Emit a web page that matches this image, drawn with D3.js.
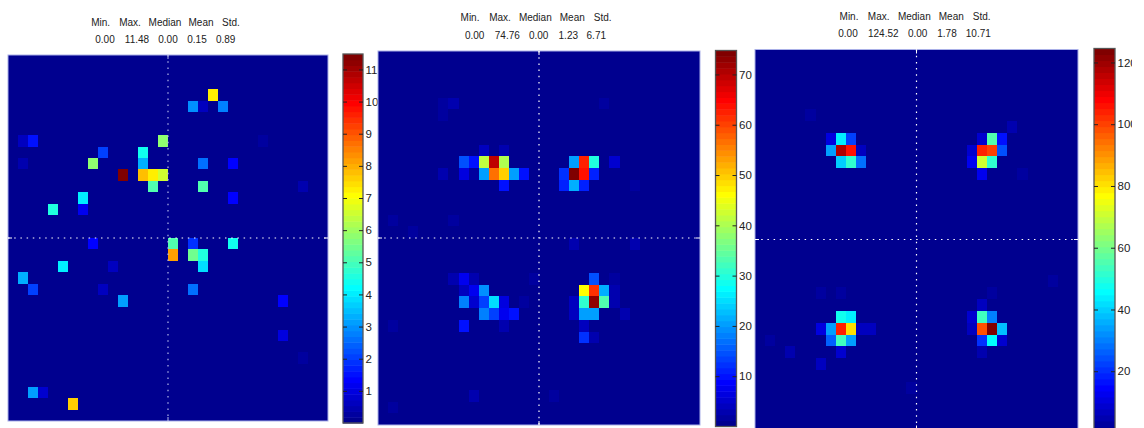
<html>
<meta charset="utf-8">
<head>
	<title>Heat maps</title>
	<script src="https://d3js.org/d3.v7.min.js"></script>
	<style>
		body { margin: 0; background: white; }
		text { font-family: "Liberation Sans", sans-serif; fill: #222; }
		.stats text { font-size: 10px; text-anchor: middle; }
		.ticks text { font-size: 11.5px; }
	</style>
</head>
<body>
<svg id="chart" width="1144" height="428"></svg>

<script>
	var statNames = ["Min.", "Max.", "Median", "Mean", "Std."];

	var stats1 = ["0.00", "11.48", "0.00", "0.15", "0.89"];
	var stats2 = ["0.00", "74.76", "0.00", "1.23", "6.71"];
	var stats3 = ["0.00", "124.52", "0.00", "1.78", "10.71"];

	var max1 = 11.48;
	var max2 = 74.76;
	var max3 = 124.52;

	var ticks1 = [1, 2, 3, 4, 5, 6, 7, 8, 9, 10, 11];
	var ticks2 = [10, 20, 30, 40, 50, 60, 70];
	var ticks3 = [20, 40, 60, 80, 100, 120];

	// [row, column, value], everything else in the 32x32 matrix is zero
	var cells1 = [
		[3,20,7.25],
		[4,18,3.0],[4,19,0.65],[4,21,2.8],
		[7,1,0.65],[7,2,1.6],[7,15,5.8],[7,25,0.25],
		[8,9,2.0],[8,13,4.45],
		[9,1,0.4],[9,8,5.9],[9,13,3.4],[9,19,2.6],[9,22,1.3],
		[10,11,11.48],[10,13,7.85],[10,14,7.2],[10,15,6.6],
		[11,14,5.1],[11,19,5.2],[11,29,0.4],
		[12,7,4.0],[12,22,1.4],
		[13,4,4.5],[13,7,1.1],
		[16,8,1.35],[16,16,5.1],[16,18,1.9],[16,22,4.4],
		[17,16,8.2],[17,18,5.4],[17,19,4.6],
		[18,5,4.0],[18,10,0.55],[18,19,3.9],
		[19,1,3.4],
		[20,2,2.0],[20,9,0.6],[20,18,2.6],
		[21,11,3.2],[21,27,1.4],
		[24,27,0.9],
		[26,29,0.3],
		[29,2,3.2],[29,3,0.8],
		[30,6,7.6]
	];

	var cells2 = [
		[4,6,1.3],[4,7,2.5],[4,22,1.3],
		[5,6,1.3],
		[8,10,4.5],[8,12,3.5],
		[9,8,15],[9,9,10],[9,10,42],[9,11,69],[9,12,40],[9,19,20],[9,20,63],[9,21,30],[9,23,5],
		[10,6,2.5],[10,8,6],[10,9,2],[10,10,20],[10,11,57],[10,12,50],[10,13,21],[10,14,10],
		[10,18,12.7],[10,19,74.76],[10,20,64],[10,21,11],
		[11,12,10],[11,18,11.5],[11,19,22],[11,20,11.5],[11,25,1.5],
		[14,1,1.5],[14,7,1.5],
		[15,3,1.3],
		[16,19,2.5],[16,25,2.5],
		[19,7,3],[19,8,8],[19,9,2.5],[19,15,1.3],[19,21,15],[19,23,1.5],
		[20,8,4],[20,9,8],[20,10,18.7],[20,20,46],[20,21,61],[20,22,21.5],[20,23,2.5],
		[21,8,18.5],[21,9,5],[21,10,14],[21,11,25],[21,12,6],[21,14,1.5],[21,19,4],[21,20,30.5],[21,21,73],[21,22,33],[21,23,2.5],
		[22,10,18.5],[22,11,14],[22,12,8],[22,13,10.5],[22,19,4],[22,20,20],[22,21,20],[22,24,2.5],
		[23,1,1.5],[23,8,9.5],[23,12,3],[23,20,4],
		[24,20,12.7],[24,21,3.5],
		[29,9,3.5],[29,17,2],
		[30,1,1.5]
	];

	var cells3 = [
		[5,5,2.5],
		[6,25,5],
		[7,7,11],[7,8,43],[7,9,21.5],[7,22,9],[7,23,55],[7,24,16],
		[8,7,35],[8,8,118],[8,9,106],[8,10,6],[8,21,8],[8,22,104],[8,23,100],[8,24,23.4],
		[9,8,39],[9,9,51],[9,10,29],[9,21,13],[9,22,71],[9,23,51],
		[10,22,12],[10,26,2.5],
		[19,29,3],
		[20,6,2.5],[20,8,2.5],[20,23,3],
		[21,22,6],
		[22,8,47],[22,9,43],[22,21,8],[22,22,54],[22,23,31],
		[23,6,10],[23,7,35],[23,8,104],[23,9,80],[23,10,7],[23,11,6],[23,21,7],[23,22,98],[23,23,124.52],[23,24,37],
		[24,1,2.5],[24,7,25.4],[24,8,54],[24,9,35],[24,22,20],[24,23,45],[24,24,8],
		[25,3,5],[25,8,9],[25,22,4],
		[26,6,7],
		[28,15,2.5]
	];

	var layout = [
		{ x0: 8, x1: 328, y0: 55, y1: 421, barX: 343, barW: 20, barTop: 54, barBottom: 423, vDot: "#b4b8ea",
			nameX: [100.7, 130, 165, 201, 231], nameY: 26, statX: [105, 137, 168, 197, 225.7], statY: 43 },
		{ x0: 378, x1: 700, y0: 51, y1: 425, barX: 715.5, barW: 21, barTop: 50.5, barBottom: 426.5, vDot: "white",
			nameX: [470, 500, 535.3, 572.3, 602.7], nameY: 21, statX: [474.7, 507.3, 538.7, 568.3, 596.3], statY: 39 },
		{ x0: 755, x1: 1078, y0: 49.5, y1: 429.5, barX: 1094, barW: 21, barTop: 48.5, barBottom: 433, vDot: "white",
			nameX: [849, 878.7, 914.3, 951.3, 981.7], nameY: 19.5, statX: [848, 883.3, 917.7, 947, 978.3], statY: 37 }
	];

	// matlab jet colormap, 64 steps
	function jet(i) {
		var f = (i + 1) / 64;
		function ch(c) { return Math.round(255 * Math.max(0, Math.min(1, 1.5 - Math.abs(4 * f - c)))); }
		return d3.rgb(ch(3), ch(2), ch(1)).formatHex();
	}
	var jetColors = d3.range(64).map(jet);

	var svg = d3.select("#chart");

	function drawPanel(g, lay, cells, max, ticks, stats) {
		var color = d3.scaleQuantize().domain([0, max]).range(jetColors);
		var index = d3.range(32);
		var x = d3.scaleBand().domain(index).range([lay.x0, lay.x1]);
		var y = d3.scaleBand().domain(index).range([lay.y0, lay.y1]);

		var lookup = {};
		cells.forEach(function (c) { lookup[c[0] + "," + c[1]] = c[2]; });
		var matrix = d3.cross(index, index).map(function (p) {
			return { row: p[0], col: p[1], value: lookup[p[0] + "," + p[1]] || 0 };
		});

		g.append("g").selectAll("rect").data(matrix).enter().append("rect")
			.attr("x", function (d) { return x(d.col); })
			.attr("y", function (d) { return y(d.row); })
			.attr("width", x.bandwidth())
			.attr("height", y.bandwidth())
			.attr("fill", function (d) { return color(d.value); })
			.attr("shape-rendering", "crispEdges");

		// frame
		g.append("rect")
			.attr("x", lay.x0).attr("y", lay.y0)
			.attr("width", lay.x1 - lay.x0).attr("height", lay.y1 - lay.y0)
			.attr("fill", "none").attr("stroke", "#aab0e8").attr("stroke-width", 1);

		// dotted quadrant lines
		var midX = x(16), midY = y(16);
		g.append("line")
			.attr("x1", midX).attr("x2", midX).attr("y1", lay.y0).attr("y2", lay.y1)
			.attr("stroke", lay.vDot).attr("stroke-width", 1.2).attr("stroke-dasharray", "1.5 4.7");
		g.append("line")
			.attr("x1", lay.x0).attr("x2", lay.x1).attr("y1", midY).attr("y2", midY)
			.attr("stroke", "white").attr("stroke-width", 1.2).attr("stroke-dasharray", "1.5 4.7");
		[[lay.x0, lay.x0 + 4], [lay.x1 - 4, lay.x1]].forEach(function (e) {
			g.append("line").attr("x1", e[0]).attr("x2", e[1]).attr("y1", midY).attr("y2", midY).attr("stroke", "white");
		});
		[[lay.y0, lay.y0 + 4], [lay.y1 - 4, lay.y1]].forEach(function (e) {
			g.append("line").attr("x1", midX).attr("x2", midX).attr("y1", e[0]).attr("y2", e[1]).attr("stroke", lay.vDot);
		});

		// colorbar
		var barY = d3.scaleLinear().domain([0, max]).range([lay.barBottom, lay.barTop]);
		var step = max / 64;
		g.append("g").selectAll("rect").data(d3.range(64)).enter().append("rect")
			.attr("x", lay.barX)
			.attr("y", function (i) { return barY((i + 1) * step); })
			.attr("width", lay.barW)
			.attr("height", function (i) { return barY(i * step) - barY((i + 1) * step) + 0.5; })
			.attr("fill", function (i) { return jetColors[i]; });
		g.append("rect")
			.attr("x", lay.barX).attr("y", lay.barTop)
			.attr("width", lay.barW).attr("height", lay.barBottom - lay.barTop)
			.attr("fill", "none").attr("stroke", "#555").attr("stroke-width", 1.3);

		var right = g.append("g").attr("class", "ticks")
			.attr("transform", "translate(" + (lay.barX + lay.barW) + ",0)")
			.call(d3.axisRight(barY).tickValues(ticks).tickSizeInner(-4).tickSizeOuter(0).tickPadding(2.5));
		var left = g.append("g")
			.attr("transform", "translate(" + lay.barX + ",0)")
			.call(d3.axisLeft(barY).tickValues(ticks).tickSizeInner(-4).tickSizeOuter(0).tickFormat(""));
		right.select(".domain").remove();
		left.select(".domain").remove();
		right.selectAll("line").attr("stroke", "#222");
		left.selectAll("line").attr("stroke", "#222");

		// statistics above the panel
		var head = g.append("g").attr("class", "stats");
		head.selectAll("text.name").data(statNames).enter().append("text")
			.attr("class", "name")
			.attr("x", function (d, i) { return lay.nameX[i]; })
			.attr("y", lay.nameY)
			.text(function (d) { return d; });
		head.selectAll("text.val").data(stats).enter().append("text")
			.attr("class", "val")
			.attr("x", function (d, i) { return lay.statX[i]; })
			.attr("y", lay.statY)
			.text(function (d) { return d; });
	}

	drawPanel(svg.append("g"), layout[0], cells1, max1, ticks1, stats1);
	drawPanel(svg.append("g"), layout[1], cells2, max2, ticks2, stats2);
	drawPanel(svg.append("g"), layout[2], cells3, max3, ticks3, stats3);

	// the picture is cut off just right of the last colorbar labels
	svg.append("rect").attr("x", 1132).attr("y", 0).attr("width", 12).attr("height", 428).attr("fill", "white");
</script>
</body>
</html>
